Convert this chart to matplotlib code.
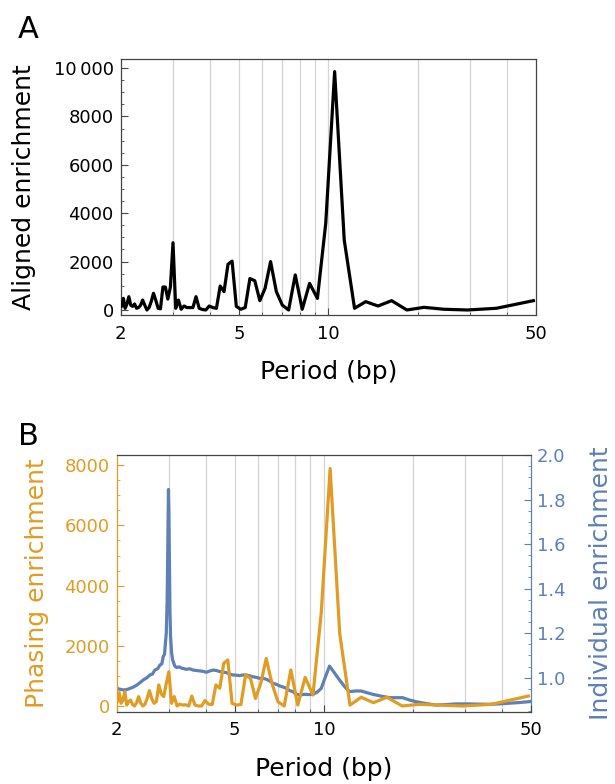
import matplotlib
matplotlib.use("Agg")
import matplotlib.pyplot as plt
from matplotlib.ticker import FixedLocator, MultipleLocator, NullFormatter, FixedFormatter

plt.rcParams['font.family'] = ['DejaVu Sans']

# ---------------- data ----------------
period = [1.986, 2.014, 2.042, 2.070, 2.100, 2.130, 2.162, 2.194, 2.227, 2.262,
          2.297, 2.333, 2.371, 2.410, 2.450, 2.492, 2.534, 2.579, 2.625, 2.673,
          2.722, 2.774, 2.827, 2.882, 2.940, 3.000, 3.063, 3.128, 3.196, 3.267,
          3.341, 3.419, 3.500, 3.585, 3.675, 3.769, 3.868, 3.973, 4.083, 4.200,
          4.324, 4.455, 4.594, 4.742, 4.900, 5.069, 5.250, 5.444, 5.654, 5.880,
          6.125, 6.391, 6.682, 7.000, 7.350, 7.737, 8.167, 8.647, 9.188, 9.800,
          10.50, 11.31, 12.25, 13.36, 14.70, 16.33, 18.38, 21.00, 24.50, 29.40,
          36.75, 49.00]

aligned = [300, 150, 480, 70, 250, 550, 200, 150, 250, 70,
           100, 200, 410, 200, 0, 100, 350, 690, 400, 70,
           50, 950, 950, 450, 950, 2780, 70, 410, 30, 165,
           100, 100, 100, 550, 70, 20, 0, 165, 100, 70,
           990, 760, 1890, 2020, 150, 30, 100, 1300, 1210, 385,
           900, 2000, 760, 200, 0, 1450, 30, 1100, 480, 3580,
           9850, 2890, 70, 345, 165, 385, 0, 110, 30, 0,
           70, 385]

phasing = [250, 150, 420, 90, 200, 475, 30, 150, 200, 50,
           0, 100, 310, 100, 0, 60, 250, 510, 250, 90,
           150, 700, 400, 310, 750, 1140, 90, 310, 0, 60,
           30, 40, 0, 330, 30, 0, 0, 180, 60, 50,
           700, 590, 1420, 1530, 90, 30, 50, 1030, 920, 250,
           750, 1580, 750, 140, 0, 1200, 30, 950, 365, 3100,
           7890, 2410, 30, 290, 110, 290, 0, 55, 30, 0,
           55, 330]

indiv_period = [2.00, 2.05, 2.10, 2.16, 2.22, 2.28, 2.34, 2.40, 2.46, 2.52,
                2.59, 2.64, 2.69, 2.75, 2.80, 2.84, 2.87, 2.90, 2.92, 2.94,
                2.96, 2.975, 2.99, 3.00, 3.01, 3.025, 3.04, 3.065, 3.09, 3.14,
                3.18, 3.25, 3.32, 3.38, 3.44, 3.52, 3.62, 3.72, 3.82, 3.92,
                4.02, 4.12, 4.23, 4.34, 4.46, 4.57, 4.69, 4.81, 4.94, 5.07,
                5.20, 5.34, 5.48, 5.62, 5.77, 5.92, 6.07, 6.23, 6.40, 6.56,
                6.73, 6.91, 7.09, 7.28, 7.47, 7.67, 7.86, 8.07, 8.30, 8.61,
                8.90, 9.18, 9.50, 9.80, 10.10, 10.45, 10.85, 11.29, 11.75, 12.20,
                12.75, 13.36, 14.00, 14.63, 15.60, 16.65, 17.50, 18.45, 19.40, 20.47,
                22.0, 23.9, 25.8, 27.9, 30.96, 33.5, 36.1, 39.0, 42.2, 45.5,
                49.3, 50.0]

individual = [0.952, 0.948, 0.945, 0.946, 0.952, 0.958, 0.967, 0.978, 0.990, 0.998,
              1.012, 1.016, 1.034, 1.040, 1.057, 1.062, 1.094, 1.105, 1.154, 1.200,
              1.350, 1.600, 1.845, 1.750, 1.573, 1.300, 1.184, 1.110, 1.079, 1.052,
              1.046, 1.048, 1.042, 1.040, 1.037, 1.040, 1.034, 1.032, 1.030, 1.028,
              1.024, 1.030, 1.034, 1.032, 1.027, 1.025, 1.022, 1.016, 1.012, 1.011,
              1.009, 1.012, 1.012, 1.008, 1.004, 1.001, 0.997, 0.996, 0.993, 0.985,
              0.975, 0.970, 0.963, 0.958, 0.952, 0.942, 0.937, 0.925, 0.922, 0.925,
              0.924, 0.925, 0.935, 0.952, 1.000, 1.052, 1.022, 0.990, 0.960, 0.937,
              0.940, 0.940, 0.932, 0.925, 0.917, 0.910, 0.910, 0.910, 0.900, 0.892,
              0.884, 0.877, 0.879, 0.882, 0.882, 0.881, 0.880, 0.882, 0.885, 0.888,
              0.892, 0.893]

x_major = [2, 5, 10, 50]
x_major_labels = ["2", "5", "10", "50"]
x_grid = [3, 4, 5, 6, 7, 8, 9, 10, 20, 30, 40]
x_minor = [3, 4, 6, 7, 8, 9, 20, 30, 40]

yA_ticks = [0, 2000, 4000, 6000, 8000, 10000]
yA_labels = ["0", "2000", "4000", "6000", "8000", "10\u2009000"]
yB_ticks = [0, 2000, 4000, 6000, 8000]
yB_labels = ["0", "2000", "4000", "6000", "8000"]
yR_ticks = [1.0, 1.2, 1.4, 1.6, 1.8, 2.0]
yR_labels = ["1.0", "1.2", "1.4", "1.6", "1.8", "2.0"]

assert len(period) == len(aligned) == len(phasing)
assert len(indiv_period) == len(individual)

# ---------------- style ----------------
ORANGE = "#E19C24"
BLUE = "#5E81B5"
SPINE = "#444444"
GRID = "#d4d4d4"
TICK_FS = 13
LABEL_FS = 18
W, H = 615, 784

fig = plt.figure(figsize=(W / 100, H / 100), dpi=100)


def fx(px):
    return px / W


def fy(py):
    return 1 - py / H


def setup_x(ax):
    ax.set_xscale("log")
    ax.set_xlim(2, 50)
    ax.xaxis.set_major_locator(FixedLocator(x_major))
    ax.xaxis.set_major_formatter(FixedFormatter(x_major_labels))
    ax.xaxis.set_minor_locator(FixedLocator(x_minor))
    ax.xaxis.set_minor_formatter(NullFormatter())
    ax.tick_params(axis="x", which="major", direction="in", length=5, width=0.8,
                   color=SPINE, labelsize=TICK_FS, pad=7)
    ax.tick_params(axis="x", which="minor", direction="in", length=2.5, width=0.6,
                   color=SPINE)
    ax.tick_params(axis="x", top=False, which="both")


# ---------------- Panel A ----------------
axA = fig.add_axes([fx(120.7), fy(315), fx(536 - 120.7), (315 - 59.3) / H])
for g in x_grid:
    axA.axvline(g, color=GRID, lw=0.9, zorder=0.5)
axA.plot(period, aligned, color="black", lw=2.3, zorder=3)
setup_x(axA)
axA.set_ylim(-207, 10360)
axA.yaxis.set_major_locator(FixedLocator(yA_ticks))
axA.yaxis.set_major_formatter(FixedFormatter(yA_labels))
axA.yaxis.set_minor_locator(MultipleLocator(500))
axA.tick_params(axis="y", which="major", direction="in", length=5, width=0.8,
                color=SPINE, labelsize=TICK_FS, pad=5)
axA.tick_params(axis="y", which="minor", direction="in", length=2.5, width=0.6,
                color=SPINE)
axA.tick_params(axis="y", which="both", right=False)
for s in axA.spines.values():
    s.set_color(SPINE)
    s.set_linewidth(0.9)
axA.set_xlabel("Period (bp)", fontsize=LABEL_FS)
axA.xaxis.set_label_coords(0.5, -0.175)
axA.set_ylabel("Aligned enrichment", fontsize=LABEL_FS)
axA.yaxis.set_label_coords(-0.205, 0.5)
fig.text(fx(18), fy(38), "A", fontsize=22, va="baseline", ha="left")

# ---------------- Panel B ----------------
rectB = [fx(116.7), fy(711.7), fx(531 - 116.7), (711.7 - 455) / H]
axB = fig.add_axes(rectB)
setup_x(axB)
axR = axB.twinx()
axR.set_zorder(1)
axB.set_zorder(2)
axB.patch.set_visible(False)

for g in x_grid:
    axR.axvline(g, color=GRID, lw=0.9, zorder=0.5)
axR.plot(indiv_period, individual, color=BLUE, lw=2.3, zorder=3)
axB.plot(period, phasing, color=ORANGE, lw=2.3, zorder=3)
axB.set_xlim(2, 50)

axB.set_ylim(-190, 8340)
axB.yaxis.set_major_locator(FixedLocator(yB_ticks))
axB.yaxis.set_major_formatter(FixedFormatter(yB_labels))
axB.yaxis.set_minor_locator(MultipleLocator(500))
axB.tick_params(axis="y", which="major", direction="in", length=5, width=0.8,
                color=ORANGE, labelcolor=ORANGE, labelsize=TICK_FS, pad=5)
axB.tick_params(axis="y", which="minor", direction="in", length=2.5, width=0.6,
                color=ORANGE)
axB.tick_params(axis="y", which="both", right=False)

axR.set_ylim(0.847, 2.0)
axR.yaxis.set_major_locator(FixedLocator(yR_ticks))
axR.yaxis.set_major_formatter(FixedFormatter(yR_labels))
axR.yaxis.set_minor_locator(MultipleLocator(0.05))
axR.tick_params(axis="y", which="major", direction="in", length=5, width=0.8,
                color=BLUE, labelcolor=BLUE, labelsize=TICK_FS, pad=4)
axR.tick_params(axis="y", which="minor", direction="in", length=2.5, width=0.6,
                color=BLUE)

for name, s in axB.spines.items():
    s.set_color(SPINE)
    s.set_linewidth(0.9)
axB.spines["left"].set_color(ORANGE)
axB.spines["right"].set_visible(False)
for name, s in axR.spines.items():
    s.set_visible(name == "right")
axR.spines["right"].set_color(BLUE)
axR.spines["right"].set_linewidth(0.9)

axB.set_xlabel("Period (bp)", fontsize=LABEL_FS)
axB.xaxis.set_label_coords(0.5, -0.175)
axB.set_ylabel("Phasing enrichment", fontsize=LABEL_FS, color=ORANGE)
axB.yaxis.set_label_coords(-0.163, 0.5)
axR.set_ylabel("Individual enrichment", fontsize=LABEL_FS, color=BLUE)
axR.yaxis.set_label_coords(1.14, 0.5)
fig.text(fx(18), fy(445), "B", fontsize=22, va="baseline", ha="left")

fig.savefig("out.png", dpi=100, facecolor="white")
